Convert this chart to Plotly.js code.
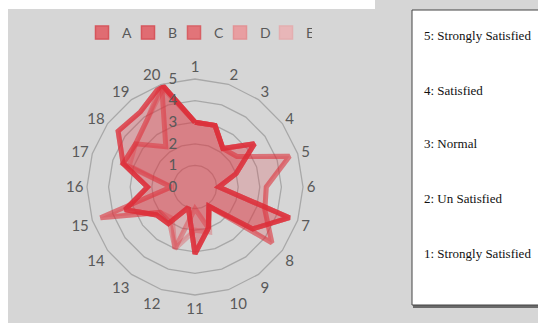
<!DOCTYPE html>
<html>
<head>
<meta charset="utf-8">
<script src="https://cdn.plot.ly/plotly-3.0.1.min.js"></script>
<style>html,body{margin:0;padding:0;background:#d6d6d6;}#chart{width:538px;height:323px;}</style>
</head>
<body>
<div id="chart"></div>
<script>
// Categories (spokes), clockwise from the top
var categories = ['1','2','3','4','5','6','7','8','9','10','11','12','13','14','15','16','17','18','19','20'];
// Series names
var seriesNames = ['A','B','C','D','E'];
// Values (scale 0-5)
var seriesA = [3.0, 3.0, 2.2, 3.4, 2.0, 1.1, 4.6, 3.3, 1.1, 2.0, 3.1, 1.0, 2.1, 2.2, 3.4, 2.2, 3.5, 4.4, 4.3, 5.0];
var seriesB = [3.0, 3.0, 2.2, 3.4, 2.0, 1.1, 4.6, 3.3, 1.1, 2.0, 3.1, 1.0, 2.1, 2.2, 3.4, 2.2, 3.5, 3.4, 2.3, 5.0];
var seriesC = [3.0, 3.0, 2.2, 3.4, 2.0, 1.1, 4.6, 3.3, 1.1, 2.0, 3.1, 1.0, 2.1, 2.2, 3.4, 2.2, 3.5, 4.4, 4.3, 5.0];
var seriesD = [3.0, 3.0, 2.2, 2.4, 4.6, 3.3, 3.4, 4.4, 1.1, 2.0, 1.0, 3.0, 2.0, 2.0, 4.6, 1.1, 3.5, 3.4, 3.8, 5.0];
var seriesE = [3.0, 3.0, 2.2, 2.4, 4.6, 3.3, 3.4, 4.4, 1.1, 2.2, 2.0, 3.0, 1.8, 2.0, 4.6, 1.1, 3.2, 3.4, 3.8, 4.8];
// Radial tick values
var radialTicks = [0, 1, 2, 3, 4, 5];
// Side note text lines
var noteLines = ['5: Strongly Satisfied', '4: Satisfied', '3: Normal', '2: Un Satisfied', '1: Strongly Satisfied'];

var allSeries = [seriesA, seriesB, seriesC, seriesD, seriesE];
var lineAlpha = [0.52, 0.52, 0.52, 0.4, 0.3];
var fillAlpha = [0.17, 0.17, 0.17, 0.13, 0.11];
var legendFill = ['rgb(224,108,114)', 'rgb(224,108,114)', 'rgb(226,116,121)', 'rgb(232,158,161)', 'rgb(232,182,184)'];
var legendEdge = ['rgb(214,86,92)', 'rgb(214,86,92)', 'rgb(216,96,101)', 'rgb(226,146,149)', 'rgb(228,174,176)'];

var traces = allSeries.map(function (vals, i) {
  return {
    type: 'scatterpolar',
    name: seriesNames[i],
    r: vals.concat([vals[0]]),
    theta: categories.concat([categories[0]]),
    mode: 'lines',
    fill: 'toself',
    fillcolor: 'rgba(222,60,70,' + fillAlpha[i] + ')',
    line: {color: 'rgba(222,45,55,' + lineAlpha[i] + ')', width: 5},
    showlegend: false,
    hoverinfo: 'skip'
  };
});

// legend entries (square swatches, like the original)
seriesNames.forEach(function (n, i) {
  traces.push({
    type: 'scatter', x: [null], y: [null], name: n, mode: 'markers',
    marker: {symbol: 'square', size: 13, color: legendFill[i], line: {color: legendEdge[i], width: 1.5}},
    hoverinfo: 'skip'
  });
});

var noteY = [35, 90, 143, 198, 253];
var annotations = noteLines.map(function (t, i) {
  return {
    text: t, xref: 'paper', yref: 'paper',
    x: 422 / 538, y: 1 - noteY[i] / 323,
    xanchor: 'left', yanchor: 'middle', showarrow: false,
    font: {family: 'Liberation Serif, serif', size: 13, color: '#111'}
  };
});

var layout = {
  width: 538, height: 323,
  margin: {l: 0, r: 0, t: 0, b: 0},
  paper_bgcolor: '#d6d6d6',
  plot_bgcolor: 'rgba(0,0,0,0)',
  showlegend: true,
  xaxis: {visible: false, domain: [0, 0.01]},
  yaxis: {visible: false, domain: [0, 0.01]},
  legend: {
    orientation: 'h', x: 197 / 538, xanchor: 'center', y: 1 - 17 / 323, yanchor: 'top',
    font: {family: 'Lato, sans-serif', size: 14, color: '#595959'},
    bgcolor: 'rgba(0,0,0,0)', itemwidth: 30, traceorder: 'normal', tracegroupgap: 0,
    entrywidth: 1, entrywidthmode: 'pixels'
  },
  polar: {
    domain: {x: [87 / 538, 303 / 538], y: [(323 - 295) / 323, (323 - 79) / 323]},
    bgcolor: 'rgba(0,0,0,0)',
    gridshape: 'linear',
    angularaxis: {
      type: 'category', categoryarray: categories,
      direction: 'clockwise', rotation: 90,
      showline: true, linecolor: '#a8a8a8', linewidth: 1.3,
      showgrid: false, ticks: '',
      tickfont: {family: 'Lato, sans-serif', size: 15, color: '#595959'}
    },
    radialaxis: {
      range: [0, 5], tickvals: radialTicks, angle: 90, side: 'counterclockwise', tickangle: 90,
      ticks: 'outside', ticklen: 12, tickcolor: 'rgba(0,0,0,0)',
      showline: false, gridcolor: '#a8a8a8', gridwidth: 1.3,
      tickfont: {family: 'Lato, sans-serif', size: 15, color: '#595959'}
    }
  },
  shapes: [
    {type: 'rect', xref: 'paper', yref: 'paper', x0: 0, x1: 8 / 538, y0: 0, y1: 1, fillcolor: '#ffffff', line: {width: 0}, layer: 'below'},
    {type: 'rect', xref: 'paper', yref: 'paper', x0: 0, x1: 375 / 538, y0: 1 - 9 / 323, y1: 1, fillcolor: '#ffffff', line: {width: 0}, layer: 'below'},
    {type: 'rect', xref: 'paper', yref: 'paper', x0: 413 / 538, x1: 1.01, y0: 1 - 308 / 323, y1: 1 - 305 / 323, fillcolor: '#6a6a6a', line: {width: 0}},
    {type: 'rect', xref: 'paper', yref: 'paper', x0: 412 / 538, x1: 1.01, y0: 1 - 305 / 323, y1: 1 - 10 / 323, fillcolor: '#ffffff', line: {color: '#444', width: 1}}
  ],
  annotations: annotations
};

Plotly.newPlot('chart', traces, layout, {displayModeBar: false, staticPlot: true});
</script>
</body>
</html>
